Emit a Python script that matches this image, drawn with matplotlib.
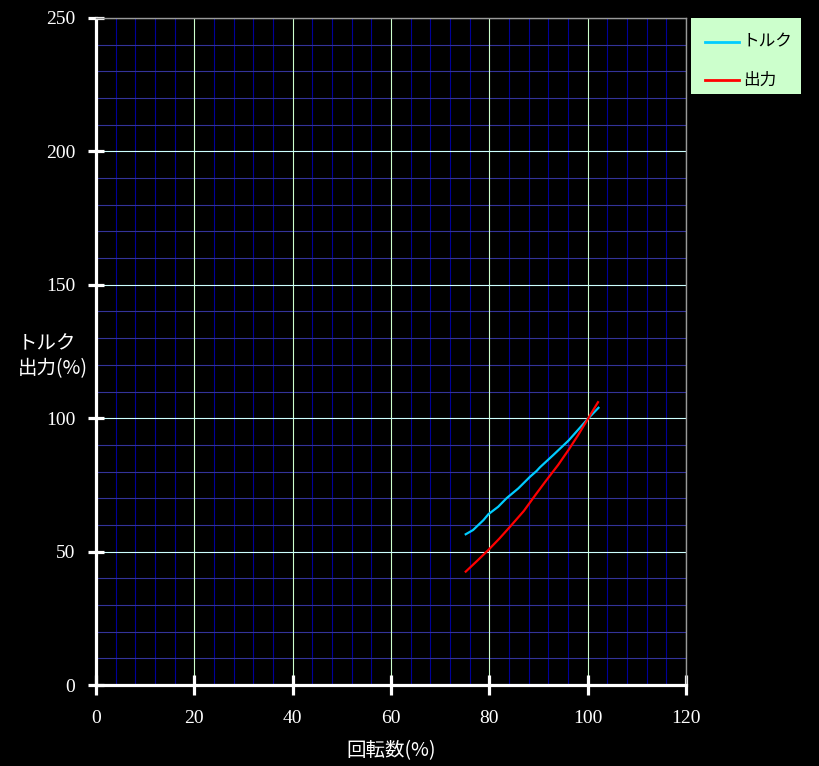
import matplotlib
matplotlib.use("Agg")
import matplotlib.pyplot as plt
from matplotlib.lines import Line2D
from matplotlib.patches import Rectangle

# Data
torque_x = [75.2, 76.7, 78.8, 79.8, 81.8, 83.5, 85.9, 88.3, 89.6, 90.3, 93.0, 96.1, 100.1, 102.2]
torque_y = [56.5, 58.1, 61.8, 64.0, 66.8, 70.0, 73.7, 78.1, 80.2, 81.6, 86.2, 91.6, 99.9, 103.9]
power_x = [75.2, 77.5, 79.8, 82.0, 84.2, 87.0, 89.6, 91.5, 94.0, 96.1, 98.0, 100.1, 102.1]
power_y = [42.5, 46.5, 50.6, 54.8, 59.3, 65.2, 71.8, 76.5, 82.5, 88.1, 93.5, 99.9, 106.0]

x_ticks = [0, 20, 40, 60, 80, 100, 120]
y_ticks = [0, 50, 100, 150, 200, 250]
legend_labels = ["トルク", "出力"]
series_colors = ["#00ccff", "#ff0000"]
x_label = "回転数(%)"
y_label = "トルク\n出力(%)"

W, H = 819, 766
fig = plt.figure(figsize=(W / 100, H / 100), dpi=100, facecolor="black")
ax = fig.add_axes([96 / W, (H - 685) / H, (686 - 96) / W, (685 - 18) / H], facecolor="black")

ax.set_xlim(0, 120)
ax.set_ylim(0, 250)

# minor grid
for v in range(0, 121, 4):
    if v % 20:
        ax.axvline(v, color="#000099", lw=0.8, zorder=0.5)
for v in range(0, 251, 10):
    if v % 50:
        ax.axhline(v, color="#333399", lw=0.8, zorder=0.5)
# major grid
for v in x_ticks[1:]:
    ax.axvline(v, color="#ccffcc", lw=0.8, zorder=0.6)
for v in y_ticks[1:]:
    ax.axhline(v, color="#ccffff", lw=0.8, zorder=0.6)

ax.plot(torque_x, torque_y, color=series_colors[0], lw=1.6, zorder=3)
ax.plot(power_x, power_y, color=series_colors[1], lw=1.6, zorder=3)

for s in ["top", "right"]:
    ax.spines[s].set_color("#999999")
    ax.spines[s].set_linewidth(1.0)
for s in ["left", "bottom"]:
    ax.spines[s].set_color("white")
    ax.spines[s].set_linewidth(2.3)
for sp in ax.spines.values():
    sp.set_zorder(4)

tick_font = dict(family="Liberation Serif", weight="normal", size=14)
ax.set_xticks(x_ticks)
ax.set_yticks(y_ticks)
ax.set_xticklabels([str(v) for v in x_ticks], **tick_font)
ax.set_yticklabels([str(v) for v in y_ticks], **tick_font)
ax.tick_params(axis="x", direction="inout", length=14, width=2.3, color="white",
               labelcolor="white", pad=11)
ax.tick_params(axis="y", direction="inout", length=12, width=2.3, color="white",
               labelcolor="white", pad=9)

lab_font = ["Noto Sans CJK JP", "DejaVu Sans"]
fig.text(391 / W, 1 - 751 / H, x_label, color="white", fontsize=14,
         family=lab_font, ha="center", va="center")
fig.text(18 / W, 1 - 356 / H, y_label, color="white", fontsize=14,
         family=lab_font, ha="left", va="center", linespacing=1.25)

# legend box (drawn in figure pixel coordinates)
fig.patches.append(Rectangle((691 / W, 1 - 94 / H), 110 / W, 76 / H,
                             transform=fig.transFigure, facecolor="#ccffcc",
                             edgecolor="none", zorder=5))
for i, (lab, col) in enumerate(zip(legend_labels, series_colors)):
    yy = 1 - (42 + 38 * i) / H
    fig.lines.append(Line2D([705 / W, 739 / W], [yy, yy], transform=fig.transFigure,
                            color=col, lw=2.0, zorder=6))
    fig.text(743 / W, yy, lab, color="black", fontsize=12, family=lab_font,
             ha="left", va="center", zorder=6)

fig.savefig("out.png", dpi=100, facecolor="black")
